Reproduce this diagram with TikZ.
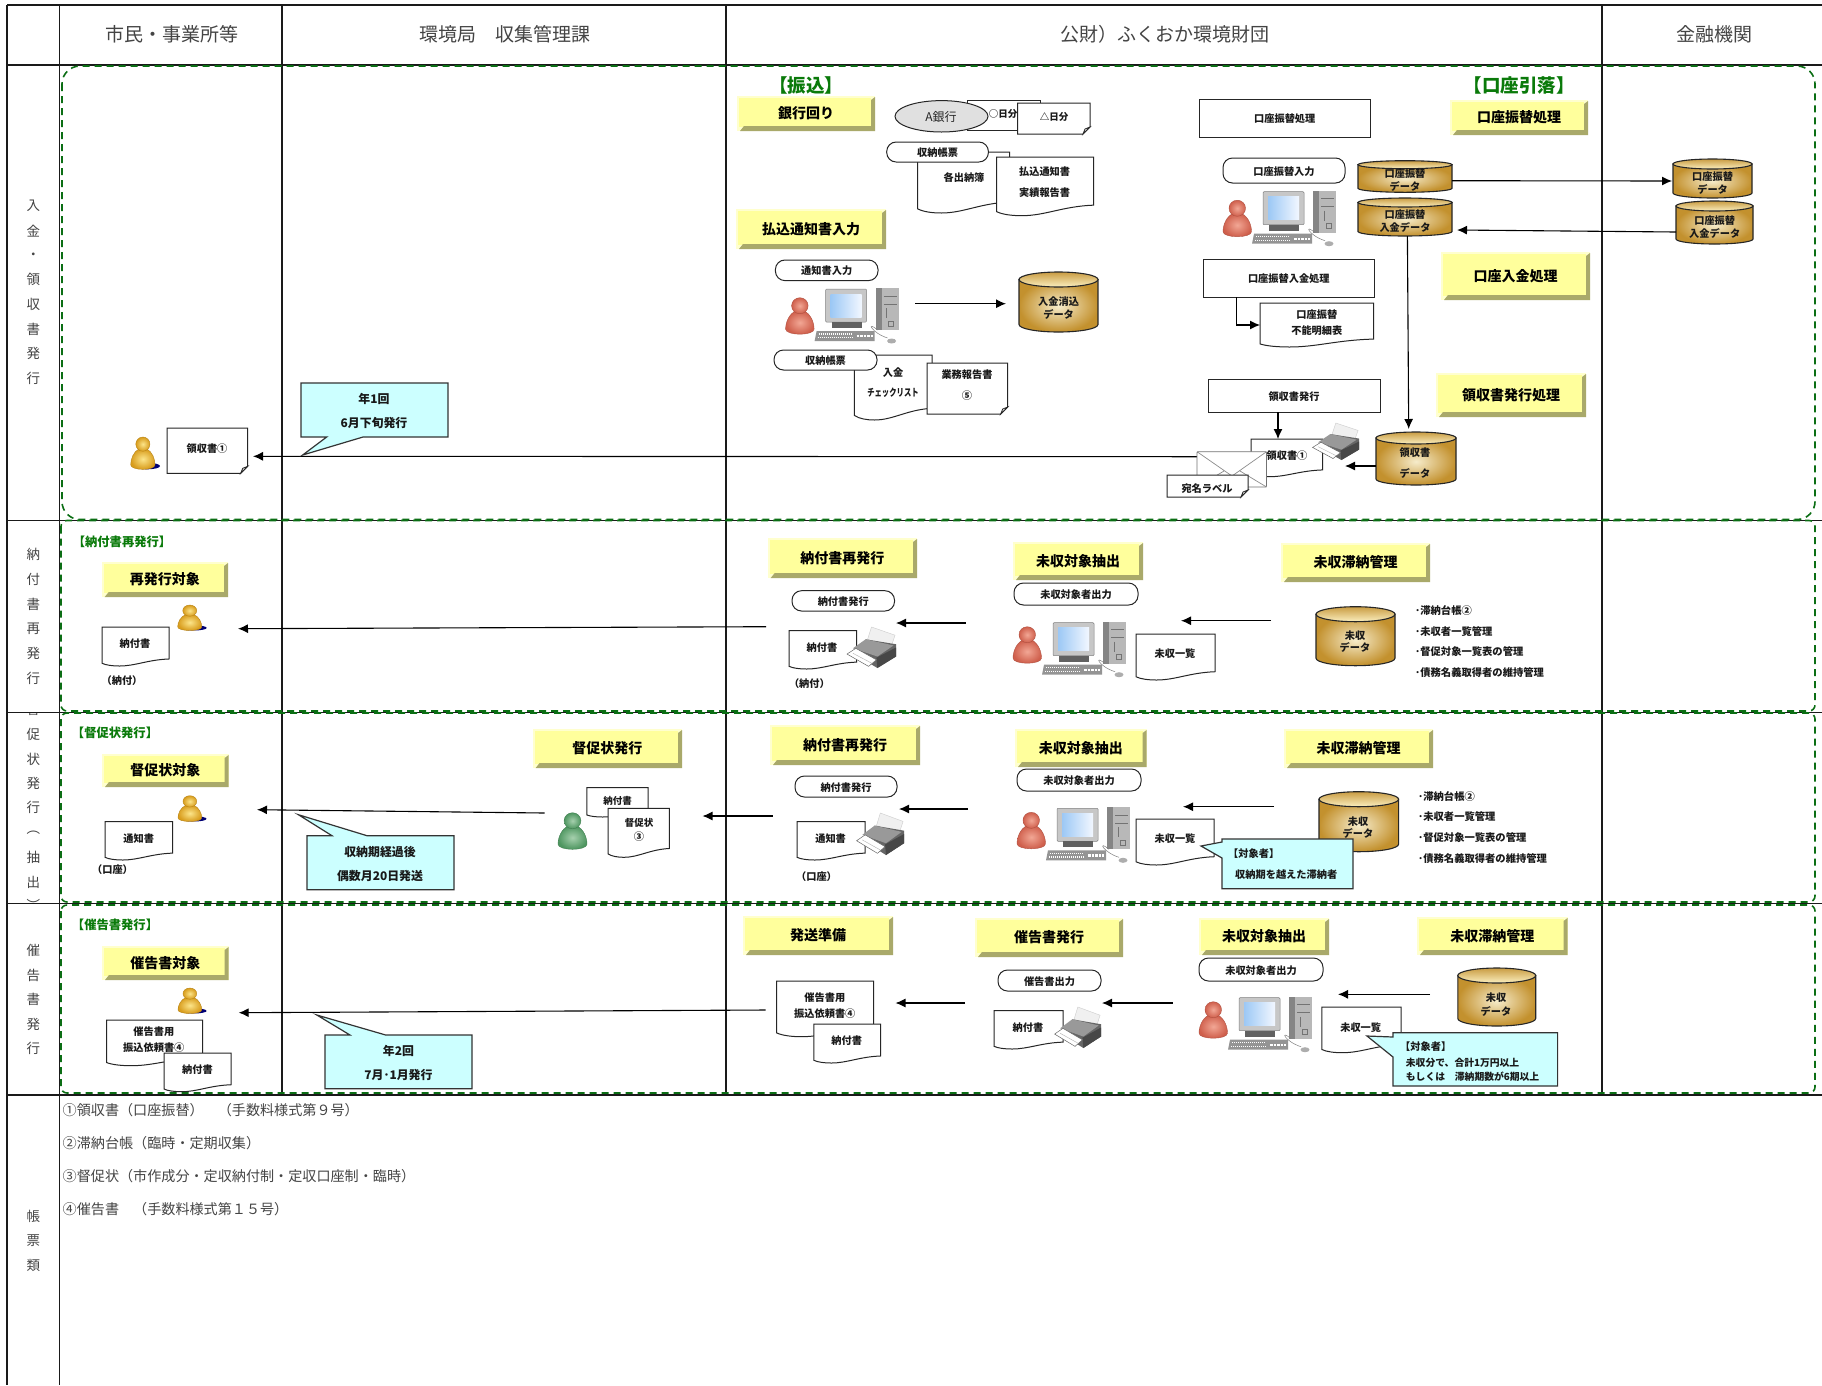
\documentclass[tikz,border=0pt]{standalone}
\usepackage{fontspec}
\setmainfont{Noto Sans CJK JP}
\usetikzlibrary{arrows.meta}
\definecolor{gridc}{HTML}{1A1A1A}
\definecolor{greenc}{HTML}{0B6E14}
\definecolor{greent}{HTML}{0A7A0A}
\definecolor{yface}{HTML}{FFFF9C}
\definecolor{ylite}{HTML}{FFFFCE}
\definecolor{ydark}{HTML}{A9A96A}
\definecolor{calc}{HTML}{CCFFFF}
\definecolor{goldd}{HTML}{C3912E}
\definecolor{goldl}{HTML}{F6ECCB}
\definecolor{goldt}{HTML}{FBEFBF}
\definecolor{headc}{HTML}{444444}
\definecolor{scrb}{HTML}{9CC8F5}
\definecolor{scrw}{HTML}{F2F7FF}
\definecolor{persg}{HTML}{D89C1C}
\definecolor{persgl}{HTML}{FCE58A}
\definecolor{persr}{HTML}{CF5F4C}
\definecolor{persrl}{HTML}{F2A795}
\definecolor{persv}{HTML}{4E9660}
\definecolor{persvl}{HTML}{A6D0AE}
\newcommand{\fsz}[1]{\fontsize{#1pt}{#1pt}\selectfont}
\tikzset{
  gridline/.style={line width=1.4pt,color=gridc},
  swim/.style={draw=greenc,line width=1.6pt,dash pattern=on 7pt off 5pt,rounded corners=6pt},
  swimbig/.style={draw=greenc,line width=1.6pt,dash pattern=on 7pt off 5pt,rounded corners=18pt},
  conn/.style={line width=1.1pt,color=black,-{Latex[length=10pt,width=9pt]}},
  shp/.style={draw=black!85,line width=1pt,fill=white},
  lbl/.style={font=\bfseries\fsz{10.2},inner sep=0pt,text=black!90,yshift=-.7pt},
  ylbl/.style={font=\bfseries\fsz{14},inner sep=0pt,text=black},
  grnl/.style={font=\bfseries\fsz{12.3},inner sep=0pt,text=greent},
  grnb/.style={font=\bfseries\fsz{18.5},inner sep=0pt,text=greent},
  headl/.style={font=\fsz{19},inner sep=0pt,text=headc},
  sidel/.style={font=\fsz{13.5},inner sep=0pt,text=headc},
  notel/.style={font=\fsz{14.1},inner sep=0pt,text=headc,anchor=west},
  pillst/.style={draw=black!85,line width=1pt,fill=white,rounded corners=9.5pt},
  calloutst/.style={draw=black!80,line width=1.2pt,fill=calc},
  calltxt/.style={lbl,font=\bfseries\fsz{11.9}},
}
% yellow bevelled title box: name, x1,y1,x2,y2,text
\newcommand{\ybox}[6]{%
  \fill[ylite] (#2,#3) rectangle (#4,#5);
  \fill[yface] ({#2+2},{#3+2}) rectangle ({#4-4},{#5-4});
  \fill[ydark] (#4,{#3+1}) -- (#4,#5) -- ({#2+3},#5) -- ({#2+7},{#5-5}) -- ({#4-4},{#5-5}) -- ({#4-4},{#3+4}) -- cycle;
  \node[ylbl] (#1) at ({(#2+#4)/2},{(#3+#5)/2}) {#6};
}
% pill: name,x1,y1,x2,y2,text
\newcommand{\pill}[6]{%
  \draw[pillst] (#2,#3) rectangle (#4,#5);
  \node[lbl] (#1) at ({(#2+#4)/2},{(#3+#5)/2}) {#6};
}
% plain box
\newcommand{\rbox}[6]{%
  \draw[shp] (#2,#3) rectangle (#4,#5);
  \node[lbl] (#1) at ({(#2+#4)/2},{(#3+#5)/2}) {#6};
}
% wave document: x1,y1,x2,y2
\newcommand{\wavedoc}[4]{%
  \pgfmathsetmacro\dw{#3-#1}\pgfmathsetmacro\dh{#4-#2}%
  \begin{scope}[shift={(#1,#2)}]
  \draw[shp] (0,0) -- (\dw,0) -- (\dw,{.82*\dh}) .. controls ({.68*\dw},{.84*\dh}) and ({.5*\dw},{1.0*\dh}) .. ({.26*\dw},\dh) .. controls ({.16*\dw},\dh) and ({.06*\dw},{.98*\dh}) .. (0,{.93*\dh}) -- cycle;
  \end{scope}
}
% dog-ear document: x1,y1,x2,y2
\newcommand{\eardoc}[4]{%
  \pgfmathsetmacro\dw{#3-#1}\pgfmathsetmacro\dh{#4-#2}%
  \begin{scope}[shift={(#1,#2)}]
  \draw[shp] (0,0) -- (\dw,0) -- (\dw,{\dh-7}) -- ({\dw-7},\dh) -- (0,\dh) -- cycle;
  \draw[shp,line width=.8pt,fill=black!8] (\dw,{\dh-7}) -- ({\dw-5},{\dh-5}) -- ({\dw-7},\dh) -- cycle;
  \end{scope}
}
% cylinder: x1,y1,x2,y2,ry
\newcommand{\cyl}[5]{%
  \pgfmathsetmacro\dw{#3-#1}\pgfmathsetmacro\dh{#4-#2}%
  \begin{scope}[shift={(#1,#2)}]
  \path[draw=black!85,line width=1.1pt,shade,inner color=goldl,outer color=goldd]
    (0,#5) -- (0,{\dh-#5}) .. controls (0,{\dh-.45*#5}) and ({.22*\dw},\dh) .. ({.5*\dw},\dh)
    .. controls ({.78*\dw},\dh) and (\dw,{\dh-.45*#5}) .. (\dw,{\dh-#5}) -- (\dw,#5) -- cycle;
  \path[draw=black!85,line width=1.1pt,shade,top color=goldd!90,bottom color=goldt]
    ({.5*\dw},#5) ellipse [x radius={.5*\dw pt},y radius=#5pt];
  \end{scope}
}
% person: x1,y1,x2,y2,dark,light
\newcommand{\person}[6]{%
  \pgfmathsetmacro\dw{(#3)-(#1)}\pgfmathsetmacro\dh{(#4)-(#2)}%
  \begin{scope}[shift={({#1},{#2})}]
  \path[draw=#5!85!black,line width=.4pt,shade,inner color=#6,outer color=#5]
    ({.36*\dw},{.36*\dh}) .. controls ({.1*\dw},{.45*\dh}) and (0,{.7*\dh}) .. (0,{.86*\dh})
    .. controls (0,{.95*\dh}) and ({.25*\dw},\dh) .. ({.5*\dw},\dh)
    .. controls ({.75*\dw},\dh) and (\dw,{.95*\dh}) .. (\dw,{.86*\dh})
    .. controls (\dw,{.7*\dh}) and ({.9*\dw},{.45*\dh}) .. ({.64*\dw},{.36*\dh}) -- cycle;
  \path[draw=#5!85!black,line width=.4pt,shade,inner color=#6,outer color=#5]
    ({.5*\dw},{.22*\dh}) ellipse [x radius={.29*\dw pt},y radius={.22*\dh pt}];
  \end{scope}
}
% gold person with blue shadow
\newcommand{\gperson}[4]{%
  \pgfmathsetmacro\sw{#3-#1}\pgfmathsetmacro\sh{#4-#2}%
  \fill[blue!45!black] ({#1+.55*\sw},{#2+.88*\sh}) ellipse [x radius={.45*\sw pt},y radius={.1*\sh pt}];
  \person{#1}{#2}{#1+.83*\sw}{#4-.02*\sh}{persg}{persgl}
}
% PC with operator, anchored at person-left / monitor-top; optional: person drop
\newcommand{\pcicon}[3][5]{%
  \person{#2}{#3+#1}{#2+28.5}{#3+#1+36.5}{persr}{persrl}
  \begin{scope}[shift={(#2,#3)}]
  \fill[black!22,rounded corners=1pt] (40,1) rectangle (81,34);
  \draw[black!50,line width=.5pt,rounded corners=1pt] (40,1) rectangle (81,34);
  \fill[black!62] (46,34) rectangle (76,40);
  \shade[left color=scrb,right color=scrw] (45,6) rectangle (76,29);
  \fill[black!28] (90,0) rectangle (113,42);
  \fill[black!48] (90,0) rectangle (96,42);
  \draw[black!55,line width=.6pt] (98,8) -- (111,8) (98,16) -- (111,16) (101,20) -- (101,30) (103,33) rectangle (108,38);
  \draw[black!50,line width=.5pt] (92,42) .. controls (80,32) and (86,45) .. (102,50);
  \fill[black!42] (31,43) -- (89,43) -- (89,53) -- (29,53) -- cycle;
  \draw[white,line width=1.4pt,dash pattern=on 1pt off 1pt] (33,46) -- (67,46) (32,49.5) -- (67,49.5);
  \draw[white,line width=2.4pt,dash pattern=on 2.5pt off 1pt] (71,48) -- (87,48);
  \fill[black!32] (106,53) ellipse [x radius=4.5pt,y radius=2.5pt];
  \end{scope}
}
% printer in box x1,y1,x2,y2
\newcommand{\printer}[4]{%
  \pgfmathsetmacro\dw{#3-#1}\pgfmathsetmacro\dh{#4-#2}%
  \begin{scope}[shift={(#1,#2)},x=\dw pt,y=-\dh pt]
  \fill[black!6,draw=black!20,line width=.4pt] (.5,0) -- (.98,.2) -- (.9,.48) -- (.42,.3) -- cycle;
  \fill[black!60] (.38,.3) -- (1,.42) -- (1,.72) -- (.62,1) -- (.2,.7) -- cycle;
  \fill[black!40] (.38,.3) -- (.95,.45) -- (.62,.72) -- (.12,.52) -- cycle;
  \fill[black!72] (1,.5) -- (1,.72) -- (.62,1) -- (.6,.75) -- cycle;
  \fill[white,draw=black!60,line width=.5pt] (0,.66) -- (.18,.52) -- (.6,.8) -- (.44,.96) -- cycle;
  \draw[black!30,line width=.4pt] (.12,.64) -- (.5,.88);
  \end{scope}
}
% connector: name, x1,y1,x2,y2
\newcommand{\flow}[5]{%
  \coordinate (#1s) at (#2,#3);
  \coordinate (#1e) at (#4,#5);
  \draw[conn] (#1s) -- (#1e);
}
\begin{document}
\begin{tikzpicture}[x=1pt,y=-1pt]
\useasboundingbox (0,0) rectangle (1822,1385);
\fill[white] (0,0) rectangle (1822,1385);
% grid
\draw[gridline] (7,5) -- (1822,5);
\draw[gridline] (7,65) -- (1822,65);
\draw[gridline] (7,520.5) -- (1822,520.5);
\draw[gridline] (7,712.5) -- (1822,712.5);
\draw[gridline] (7,903.5) -- (1822,903.5);
\draw[gridline] (7,1095) -- (1822,1095);
\draw[gridline] (7,5) -- (7,1385);
\draw[gridline] (59.5,5) -- (59.5,1385);
\draw[gridline] (282,5) -- (282,1095);
\draw[gridline] (726,5) -- (726,1095);
\draw[gridline] (1602,5) -- (1602,1095);
% headers
\node[headl] (h1) at (172,34) {市民・事業所等};
\node[headl] (h2) at (504.5,34) {環境局　収集管理課};
\node[headl] (h3) at (1164.5,34) {公財）ふくおか環境財団};
\node[headl] (h4) at (1714,34) {金融機関};
% side labels
\foreach \c/\y in {入/205.5,金/231,・/256,領/279.5,収/304,書/329,発/353.5,行/378}
  \node[sidel] at (33.5,\y) {\c};
\foreach \c/\y in {納/554.5,付/579,書/604,再/628.5,発/653.5,行/678}
  \node[sidel] at (33.5,\y) {\c};
\begin{scope}
\clip (8,713.5) rectangle (59,903);
\foreach \c/\y in {督/709.5,促/734,状/759,発/783,行/807,︵/833,抽/857.5,出/882.5,︶/905}
  \node[sidel] at (33.5,\y) {\c};
\end{scope}
\foreach \c/\y in {催/950,告/975,書/999.5,発/1024,行/1048.5}
  \node[sidel] at (33.5,\y) {\c};
\foreach \c/\y in {帳/1216,票/1241,類/1265.5}
  \node[sidel] at (33.5,\y) {\c};
% notes
\node[notel] (n1) at (62.5,1110) {①領収書（口座振替）　（手数料様式第９号）};
\node[notel] (n2) at (62.5,1143) {②滞納台帳（臨時・定期収集）};
\node[notel] (n3) at (62.5,1176) {③督促状（市作成分・定収納付制・定収口座制・臨時）};
\node[notel] (n4) at (62.5,1209) {④催告書　（手数料様式第１５号）};
% swimlane frames
\draw[swimbig] (62,66) rectangle (1815,519.5);
\draw[swim] (61,520.5) rectangle (1815,711);
\draw[swim] (61,713) rectangle (1815,902);
\draw[swim] (61,905) rectangle (1815,1093);

%%%%% Row 1
\node[grnb] (t-furi) at (806,85) {【振込】};
\node[grnb] (t-hiki) at (1519,85) {【口座引落】};
\ybox{y-ginko}{737}{96}{875}{131}{銀行回り}
\ybox{y-hara}{736}{209}{886}{249}{払込通知書入力}
\ybox{y-kofuri}{1450}{100}{1588}{135}{口座振替処理}
\ybox{y-konyu}{1441}{252}{1590}{300}{口座入金処理}
\ybox{y-ryo}{1436}{373}{1586}{417}{領収書発行処理}
% bank
\draw[shp] (967,100) rectangle (1040,130);
\node[lbl,font=\bfseries\fsz{9.5}] (d-maru) at (1003,113) {○日分};
\draw[shp,fill=black!12] (941.5,116.3) ellipse [x radius=46.5pt,y radius=15.7pt];
\node[font=\fsz{12},inner sep=0pt,text=black!85] (n-abank) at (941,116.5) {A銀行};
\eardoc{1017.5}{103}{1090}{134}
\node[lbl,font=\bfseries\fsz{9.5}] (d-san) at (1054,116.7) {△日分};
\wavedoc{917.5}{152}{1009.5}{213}
\node[lbl] (d-kaku) at (964,177) {各出納簿};
\pill{p-shu1}{886.7}{142}{988.4}{162}{収納帳票}
\wavedoc{996.5}{157}{1093.7}{215.7}
\node[lbl] (d-hara) at (1044.6,171) {払込通知書};
\node[lbl] (d-jitsu) at (1044.6,191.7) {実績報告書};
\pill{p-tsu}{775.4}{260}{878}{280.6}{通知書入力}
\pcicon[9.7]{785.6}{288}
\cyl{1019}{272}{1098}{332}{7.5}
\node[lbl] (c-nyu1) at (1058.6,300.7) {入金消込};
\node[lbl] (c-nyu2) at (1058.6,313.3) {データ};
\flow{a-nyu}{915}{303.7}{1006}{303.7}
\wavedoc{854.4}{355}{932}{420}
\node[lbl] (d-nyukin) at (893,371.7) {入金};
\node[lbl] (d-check) at (893,392) {\scalebox{.72}[1]{チェックリスト}};
\pill{p-shu2}{774}{350}{877}{370}{収納帳票}
\eardoc{927}{363}{1007.7}{414}
\node[lbl] (d-gyo) at (967,374) {業務報告書};
\node[lbl] (d-gyo5) at (967,395) {⑤};
% right block
\rbox{b-kofuri}{1199.5}{99}{1370}{137}{口座振替処理}
\pill{p-kofuri}{1223}{158}{1345}{183}{口座振替入力}
\pcicon[9.5]{1223}{190.7}
\cyl{1358}{160.7}{1452}{192.3}{4}
\node[lbl] (c-a1) at (1405,173) {口座振替};
\node[lbl] (c-a2) at (1405,186) {データ};
\cyl{1358}{198}{1452}{236}{4.5}
\node[lbl] (c-b1) at (1405,214) {口座振替};
\node[lbl] (c-b2) at (1405,226.7) {入金データ};
\cyl{1673}{159}{1752}{198}{5}
\node[lbl] (c-c1) at (1712.6,176) {口座振替};
\node[lbl] (c-c2) at (1712.6,189) {データ};
\cyl{1676}{201}{1753}{244}{5}
\node[lbl] (c-d1) at (1714.7,220) {口座振替};
\node[lbl] (c-d2) at (1714.7,232.7) {入金データ};
\flow{a-out}{1452}{180.7}{1672}{181}
\flow{a-in}{1676}{232}{1457}{230}
\flow{a-down}{1407.4}{236}{1408.7}{429}
\rbox{b-konyu}{1203}{259}{1374.6}{297}{口座振替入金処理}
\wavedoc{1260}{303}{1373.7}{347}
\node[lbl] (d-fu1) at (1316.8,314) {口座振替};
\node[lbl] (d-fu2) at (1316.8,330) {不能明細表};
\coordinate (a-elb0) at (1236.5,297);
\coordinate (a-elb) at (1236.5,325);
\coordinate (a-elb1) at (1260,325);
\draw[conn] (a-elb0) -- (a-elb) -- (a-elb1);
\rbox{b-ryo}{1208}{379}{1380}{412}{領収書発行}
\flow{a-ryo}{1278}{412}{1278}{439}
% long arrow first, under envelope
\flow{a-long}{1197}{456.7}{253}{456.3}
\wavedoc{1251}{439}{1322.6}{476.7}
\node[lbl] (d-ryo) at (1287,455) {領収書①};
\draw[draw=black!55,line width=.9pt,fill=white,rounded corners=1pt] (1197,451.7) rectangle (1266.5,487);
\draw[black!45,line width=.7pt] (1197,451.7) -- (1232,476) -- (1266.5,451.7) (1197,487) -- (1224,471) (1266.5,487) -- (1240,471);
\eardoc{1167}{475}{1248}{497}
\node[lbl] (d-atena) at (1207,488) {宛名ラベル};
\printer{1312.6}{423}{1359}{460}
\cyl{1376}{432}{1456}{485}{6}
\node[lbl] (c-r1) at (1415,451.7) {領収書};
\node[lbl] (c-r2) at (1415,472.7) {データ};
\flow{a-prn}{1376}{466}{1345}{466}
% left
\gperson{130.7}{437}{160}{470}
\eardoc{167}{428}{247.7}{473.3}
\node[lbl] (d-ryol) at (207,447.5) {領収書①};
\draw[calloutst] (301,383) -- (448,383) -- (448,437) -- (363,437) -- (302.7,455) -- (326.7,437) -- (301,437) -- cycle;
\node[calltxt] (k-1a) at (374,398.3) {年1回};
\node[calltxt] (k-1b) at (374,422) {6月下旬発行};

%%%%% Row 2
\node[grnl] (t-r2) at (122,541.7) {【納付書再発行】};
\ybox{y-r2a}{101.7}{562}{228}{597}{再発行対象}
\gperson{177.7}{605}{206.7}{631}
\wavedoc{102}{627}{169}{666}
\node[lbl] (d-r2a) at (135,643) {納付書};
\node[lbl] (d-r2b) at (122,680) {（納付）};
\flow{a-r2a}{766}{626.7}{238}{628.7}
\ybox{y-r2b}{767.7}{538}{917}{578}{納付書再発行}
\pill{p-r2a}{792}{590.7}{894.5}{611}{納付書発行}
\wavedoc{789}{630.7}{856.6}{669}
\node[lbl] (d-r2c) at (822,646.7) {納付書};
\printer{847}{627}{896}{668}
\node[lbl] (d-r2d) at (809.4,683) {（納付）};
\flow{a-r2b}{965.5}{623}{896}{623}
\ybox{y-r2c}{1013}{542}{1143}{580}{未収対象抽出}
\pill{p-r2b}{1014}{583}{1138}{605}{未収対象者出力}
\pcicon{1013}{621.7}
\wavedoc{1136}{634}{1215}{680}
\node[lbl] (d-r2e) at (1175,653) {未収一覧};
\flow{a-r2c}{1271}{620.7}{1181}{620.7}
\ybox{y-r2d}{1281}{543}{1430}{582}{未収滞納管理}
\cyl{1316}{606.7}{1395}{665.7}{7.5}
\node[lbl] (c-r2a) at (1355,635) {未収};
\node[lbl] (c-r2b) at (1355,647) {データ};
\node[lbl,anchor=west,font=\bfseries\fsz{10.3}] (l-r2a) at (1415,610) {･滞納台帳②};
\node[lbl,anchor=west,font=\bfseries\fsz{10.3}] (l-r2b) at (1415,630.7) {･未収者一覧管理};
\node[lbl,anchor=west,font=\bfseries\fsz{10.3}] (l-r2c) at (1415,651.3) {･督促対象一覧表の管理};
\node[lbl,anchor=west,font=\bfseries\fsz{10.3}] (l-r2d) at (1415,672) {･債務名義取得者の維持管理};

%%%%% Row 3
\node[grnl] (t-r3) at (115,733) {【督促状発行】};
\ybox{y-r3a}{102}{754}{228.6}{787}{督促状対象}
\gperson{178}{795.7}{206.6}{822}
\wavedoc{105}{821.7}{172.6}{860}
\node[lbl] (d-r3a) at (138.7,837.7) {通知書};
\node[lbl] (d-r3b) at (112.5,869) {（口座）};
\flow{a-r3a}{544.5}{813}{257}{809.7}
\draw[calloutst] (307,835.7) -- (332,835.7) -- (298.4,814.7) -- (367,835.7) -- (454,835.7) -- (454,889.7) -- (307,889.7) -- cycle;
\node[calltxt] (k-3a) at (380,851) {収納期経過後};
\node[calltxt] (k-3b) at (380,875) {偶数月20日発送};
\ybox{y-r3b}{532.6}{729}{682}{768}{督促状発行}
\wavedoc{586.8}{787.7}{648}{817}
\node[lbl,font=\bfseries\fsz{9.5}] (d-r3c) at (617.5,800) {納付書};
\person{558}{812.7}{587}{849.3}{persv}{persvl}
\wavedoc{608}{808.3}{669.4}{857.3}
\node[lbl,font=\bfseries\fsz{9.5}] (d-r3d) at (639,822) {督促状};
\node[lbl] (d-r3e) at (639,836) {③};
\flow{a-r3b}{772.6}{816}{702.5}{816}
\ybox{y-r3c}{770}{725}{920}{765}{納付書再発行}
\pill{p-r3a}{795}{776}{897}{797}{納付書発行}
\wavedoc{797}{821.7}{865}{860}
\node[lbl] (d-r3f) at (830.6,837.7) {通知書};
\printer{856.6}{813}{904}{855}
\node[lbl] (d-r3g) at (816.5,875.7) {（口座）};
\flow{a-r3c}{968}{809}{899}{809}
\ybox{y-r3d}{1015}{729}{1146.6}{767}{未収対象抽出}
\pill{p-r3b}{1017}{769}{1141}{791}{未収対象者出力}
\pcicon{1017}{807.3}
\flow{a-r3d}{1274}{806.7}{1183}{806.7}
\ybox{y-r3e}{1284}{729}{1433}{768}{未収滞納管理}
\cyl{1319}{791.7}{1398.6}{851.7}{7.5}
\node[lbl] (c-r3a) at (1358,820.7) {未収};
\node[lbl] (c-r3b) at (1358,833) {データ};
\wavedoc{1136}{819}{1214}{865}
\node[lbl] (d-r3h) at (1175,838) {未収一覧};
\draw[calloutst] (1222,839) -- (1353,839) -- (1353,888.7) -- (1222,888.7) -- (1222,858) -- (1201,846) -- (1222,842) -- cycle;
\node[lbl,anchor=west] (k-r3a) at (1228,853) {【対象者】};
\node[lbl,anchor=west] (k-r3b) at (1235,874) {収納期を越えた滞納者};
\node[lbl,anchor=west,font=\bfseries\fsz{10.3}] (l-r3a) at (1418,795.7) {･滞納台帳②};
\node[lbl,anchor=west,font=\bfseries\fsz{10.3}] (l-r3b) at (1418,816.3) {･未収者一覧管理};
\node[lbl,anchor=west,font=\bfseries\fsz{10.3}] (l-r3c) at (1418,837) {･督促対象一覧表の管理};
\node[lbl,anchor=west,font=\bfseries\fsz{10.3}] (l-r3d) at (1418,857.7) {･債務名義取得者の維持管理};

%%%%% Row 4
\node[grnl] (t-r4) at (115,925) {【催告書発行】};
\ybox{y-r4a}{102}{946}{228.6}{980}{催告書対象}
\gperson{178}{988}{206.6}{1014}
\wavedoc{106.5}{1020}{202.5}{1065.7}
\node[lbl] (d-r4a) at (153.8,1031) {催告書用};
\node[lbl] (d-r4b) at (153.8,1046.7) {振込依頼書④};
\wavedoc{164}{1053}{231}{1091.7}
\node[lbl] (d-r4c) at (197.4,1069) {納付書};
\flow{a-r4a}{765.5}{1010}{238.7}{1012.7}
\draw[calloutst] (325,1035) -- (350,1035) -- (316.8,1015) -- (385.7,1035) -- (472,1035) -- (472,1088.7) -- (325,1088.7) -- cycle;
\node[calltxt] (k-4a) at (398.5,1050) {年2回};
\node[calltxt] (k-4b) at (398.5,1074) {7月･1月発行};
\ybox{y-r4b}{743}{916}{893}{955}{発送準備}
\wavedoc{776.5}{981}{873.6}{1036.7}
\node[lbl] (d-r4d) at (824.8,996.7) {催告書用};
\node[lbl] (d-r4e) at (824.8,1012.7) {振込依頼書④};
\wavedoc{813.8}{1024}{880.7}{1063}
\node[lbl] (d-r4f) at (846.7,1040) {納付書};
\flow{a-r4b}{965}{1003}{895.5}{1003}
\ybox{y-r4c}{975}{918}{1123}{957}{催告書発行}
\pill{p-r4a}{998}{970}{1101}{991}{催告書出力}
\wavedoc{994}{1010.7}{1063}{1049}
\node[lbl] (d-r4g) at (1028,1026.7) {納付書};
\printer{1054.6}{1007}{1101}{1048}
\flow{a-r4c}{1172.5}{1003}{1102}{1003}
\ybox{y-r4d}{1199}{918}{1329}{955}{未収対象抽出}
\pill{p-r4b}{1199}{958}{1323}{981}{未収対象者出力}
\pcicon{1199}{996.7}
\flow{a-r4d}{1430}{994.3}{1338}{994.3}
\ybox{y-r4e}{1417}{917}{1567.5}{955}{未収滞納管理}
\cyl{1457.8}{968}{1535.7}{1026}{7.5}
\node[lbl] (c-r4a) at (1496,997) {未収};
\node[lbl] (c-r4b) at (1496,1010.7) {データ};
\wavedoc{1321.8}{1007}{1401}{1052.7}
\node[lbl] (d-r4h) at (1360.7,1026.7) {未収一覧};
\draw[calloutst] (1393,1032.7) -- (1557.6,1032.7) -- (1557.6,1086) -- (1393,1086) -- (1393,1057) -- (1367,1036) -- (1393,1037) -- cycle;
\node[lbl,anchor=west] (k-r4a) at (1400,1046) {【対象者】};
\node[lbl,anchor=west,font=\bfseries\fsz{9.8}] (k-r4b) at (1405.7,1062) {未収分で、合計1万円以上};
\node[lbl,anchor=west,font=\bfseries\fsz{9.8}] (k-r4c) at (1405.7,1076) {もしくは　滞納期数が6期以上};
\end{tikzpicture}
\end{document}
